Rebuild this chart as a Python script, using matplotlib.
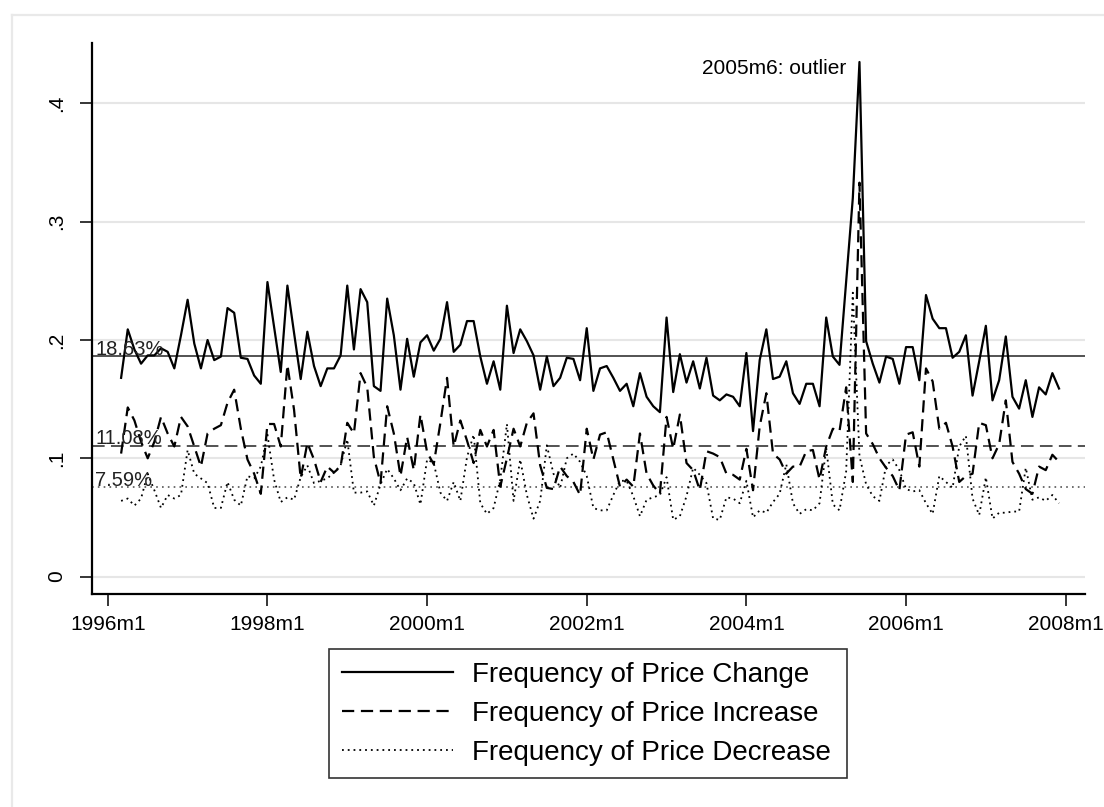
import numpy as np
import matplotlib
matplotlib.use('Agg')
import matplotlib.pyplot as plt
from matplotlib.lines import Line2D

plt.rcParams['font.family'] = ['Liberation Sans', 'DejaVu Sans']

# monthly series, 1996m3 .. 2007m12
START_YEAR, START_MONTH = 1996, 3

freq_change = [
    0.168, 0.209, 0.192, 0.180, 0.187, 0.187, 0.193, 0.190, 0.176, 0.204,
    0.234, 0.197, 0.176, 0.200, 0.183, 0.186, 0.227, 0.223, 0.185, 0.184,
    0.170, 0.163, 0.249, 0.211, 0.173, 0.246, 0.206, 0.167, 0.207, 0.178,
    0.161, 0.176, 0.176, 0.187, 0.246, 0.192, 0.243, 0.232, 0.161, 0.157,
    0.235, 0.204, 0.158, 0.201, 0.169, 0.198, 0.204, 0.191, 0.201, 0.232,
    0.190, 0.196, 0.216, 0.216, 0.186, 0.163, 0.182, 0.158, 0.229, 0.189,
    0.209, 0.199, 0.187, 0.158, 0.186, 0.161, 0.168, 0.185, 0.184, 0.166,
    0.210, 0.157, 0.176, 0.178, 0.168, 0.157, 0.163, 0.144, 0.172, 0.152,
    0.144, 0.139, 0.219, 0.156, 0.188, 0.164, 0.182, 0.159, 0.185, 0.153,
    0.149, 0.154, 0.152, 0.144, 0.189, 0.123, 0.183, 0.209, 0.167, 0.169,
    0.182, 0.155, 0.146, 0.163, 0.163, 0.144, 0.219, 0.186, 0.179, 0.249,
    0.320, 0.435, 0.199, 0.180, 0.164, 0.186, 0.184, 0.163, 0.194, 0.194,
    0.166, 0.238, 0.218, 0.210, 0.210, 0.185, 0.190, 0.204, 0.153, 0.182,
    0.212, 0.149, 0.166, 0.203, 0.152, 0.142, 0.166, 0.135, 0.160, 0.154,
    0.172, 0.159,
]

freq_increase = [
    0.104, 0.143, 0.132, 0.114, 0.100, 0.114, 0.135, 0.121, 0.110, 0.135,
    0.127, 0.110, 0.093, 0.121, 0.125, 0.128, 0.147, 0.158, 0.125, 0.099,
    0.087, 0.070, 0.129, 0.129, 0.110, 0.179, 0.141, 0.083, 0.113, 0.099,
    0.080, 0.093, 0.088, 0.093, 0.130, 0.121, 0.172, 0.160, 0.101, 0.079,
    0.144, 0.121, 0.085, 0.118, 0.090, 0.137, 0.105, 0.095, 0.130, 0.168,
    0.110, 0.132, 0.115, 0.096, 0.124, 0.110, 0.124, 0.076, 0.100, 0.125,
    0.110, 0.130, 0.138, 0.094, 0.075, 0.074, 0.093, 0.085, 0.080, 0.069,
    0.125, 0.099, 0.120, 0.122, 0.099, 0.076, 0.082, 0.076, 0.121, 0.087,
    0.077, 0.070, 0.135, 0.108, 0.137, 0.096, 0.090, 0.073, 0.106, 0.104,
    0.101, 0.087, 0.086, 0.082, 0.108, 0.073, 0.127, 0.155, 0.104, 0.099,
    0.087, 0.093, 0.093, 0.106, 0.107, 0.082, 0.110, 0.125, 0.123, 0.160,
    0.080, 0.333, 0.121, 0.112, 0.100, 0.092, 0.085, 0.073, 0.120, 0.122,
    0.093, 0.176, 0.165, 0.125, 0.130, 0.110, 0.080, 0.085, 0.087, 0.130,
    0.128, 0.100, 0.112, 0.149, 0.097, 0.087, 0.074, 0.070, 0.093, 0.090,
    0.103, 0.097,
]

freq_decrease = [
    0.064, 0.066, 0.060, 0.066, 0.087, 0.073, 0.058, 0.069, 0.066, 0.069,
    0.107, 0.087, 0.083, 0.079, 0.058, 0.058, 0.080, 0.065, 0.060, 0.085,
    0.083, 0.093, 0.120, 0.082, 0.063, 0.067, 0.065, 0.084, 0.094, 0.079,
    0.081, 0.083, 0.088, 0.094, 0.116, 0.071, 0.071, 0.072, 0.060, 0.078,
    0.091, 0.083, 0.073, 0.083, 0.079, 0.061, 0.099, 0.096, 0.071, 0.064,
    0.080, 0.064, 0.101, 0.120, 0.062, 0.053, 0.058, 0.082, 0.129, 0.064,
    0.099, 0.069, 0.049, 0.064, 0.111, 0.087, 0.075, 0.100, 0.104, 0.097,
    0.085, 0.058, 0.056, 0.056, 0.069, 0.081, 0.081, 0.068, 0.051, 0.065,
    0.067, 0.069, 0.084, 0.048, 0.051, 0.068, 0.092, 0.086, 0.079, 0.049,
    0.048, 0.067, 0.066, 0.062, 0.081, 0.050, 0.056, 0.054, 0.063, 0.070,
    0.095, 0.062, 0.053, 0.057, 0.056, 0.062, 0.109, 0.061, 0.056, 0.089,
    0.240, 0.102, 0.078, 0.068, 0.064, 0.094, 0.099, 0.090, 0.074, 0.072,
    0.073, 0.062, 0.053, 0.085, 0.080, 0.075, 0.110, 0.119, 0.066, 0.052,
    0.084, 0.049, 0.054, 0.054, 0.055, 0.055, 0.092, 0.065, 0.067, 0.064,
    0.069, 0.062,
]

# sample means shown as reference lines
mean_change, mean_increase, mean_decrease = 0.1863, 0.1108, 0.0759
mean_labels = ['18.63%', '11.08%', '7.59%']

tick_years = [1996, 1998, 2000, 2002, 2004, 2006, 2008]
tick_labels = [f'{y}m1' for y in tick_years]
y_ticks = [0, 0.1, 0.2, 0.3, 0.4]
y_ticklabels = ['0', '.1', '.2', '.3', '.4']

outlier_label = '2005m6: outlier'
legend_labels = ['Frequency of Price Change', 'Frequency of Price Increase',
                 'Frequency of Price Decrease']

# month index counted from 1996m1
x = np.arange(len(freq_change)) + (START_YEAR - 1996) * 12 + (START_MONTH - 1)
xt = [(y - 1996) * 12 for y in tick_years]

W, H = 1104, 807
fig = plt.figure(figsize=(W / 100, H / 100), dpi=100)
ax = fig.add_axes([91.7 / W, 1 - 594 / H, (1084.7 - 91.7) / W, (594 - 43.3) / H])

# outer graph frame (stata style), cut by the image border
fig.add_artist(Line2D([11.7 / W, 11.7 / W], [0, 1 - 15 / H], color='#e9e9e9', lw=1.6,
                      transform=fig.transFigure))
fig.add_artist(Line2D([11.7 / W, 1], [1 - 15 / H, 1 - 15 / H], color='#e9e9e9', lw=1.6,
                      transform=fig.transFigure))

for yt in y_ticks:
    ax.axhline(yt, color='#e6e6e6', lw=1.5, zorder=0)

lw = 1.6
dash = (0, (5.5, 3))
dots = (0, (1, 2.2))
ax.plot(x, freq_decrease, color='black', lw=1.3, linestyle=dots, zorder=3)
ax.plot(x, freq_increase, color='black', lw=lw, linestyle=dash, zorder=4)
ax.plot(x, freq_change, color='black', lw=lw, zorder=5)

ax.axhline(mean_change, color='#444444', lw=1.3, zorder=2)
ax.axhline(mean_increase, color='#444444', lw=1.3, linestyle=(0, (7, 3.5)), zorder=2)
ax.axhline(mean_decrease, color='#555555', lw=1.2, linestyle=(0, (1, 2.5)), zorder=2)

ytr = ax.get_yaxis_transform()
for val, lab in zip([mean_change, mean_increase, mean_decrease], mean_labels):
    ax.text(0.0035, val + 0.001, lab, transform=ytr, fontsize=14.5, ha='left',
            va='baseline', color='#222222', zorder=6)

imax = int(np.argmax(freq_change))
ax.annotate(outlier_label, xy=(x[imax], freq_change[imax]), xytext=(-9.5, -4.5),
            textcoords='offset points', ha='right', va='center', fontsize=15)

ax.set_xlim(-2.42, 146.86)
ax.set_ylim(-0.0147, 0.4508)
ax.set_xticks(xt)
ax.set_xticklabels(tick_labels, fontsize=15)
ax.set_yticks(y_ticks)
ax.set_yticklabels(y_ticklabels, fontsize=15, rotation=90, va='center')
ax.tick_params(axis='both', length=8.4, width=1.1, color='black')
ax.tick_params(axis='x', pad=6.5)
ax.tick_params(axis='y', pad=10)

for s in ['top', 'right']:
    ax.spines[s].set_visible(False)
for s in ['left', 'bottom']:
    ax.spines[s].set_linewidth(1.6)

handles = [
    Line2D([], [], color='black', lw=lw),
    Line2D([], [], color='black', lw=lw, linestyle=dash),
    Line2D([], [], color='black', lw=1.3, linestyle=dots),
]
leg = fig.legend(handles, legend_labels, loc='upper left',
                 bbox_to_anchor=(329 / W, 1 - 650 / H, 518 / W, 0.001), mode='expand',
                 fontsize=20, frameon=True, fancybox=False, handlelength=4.0,
                 handletextpad=0.68, labelspacing=0.47, borderpad=0.45, borderaxespad=0)
leg.get_frame().set_edgecolor('black')
leg.get_frame().set_linewidth(1.2)

fig.savefig('out.png', dpi=100)
